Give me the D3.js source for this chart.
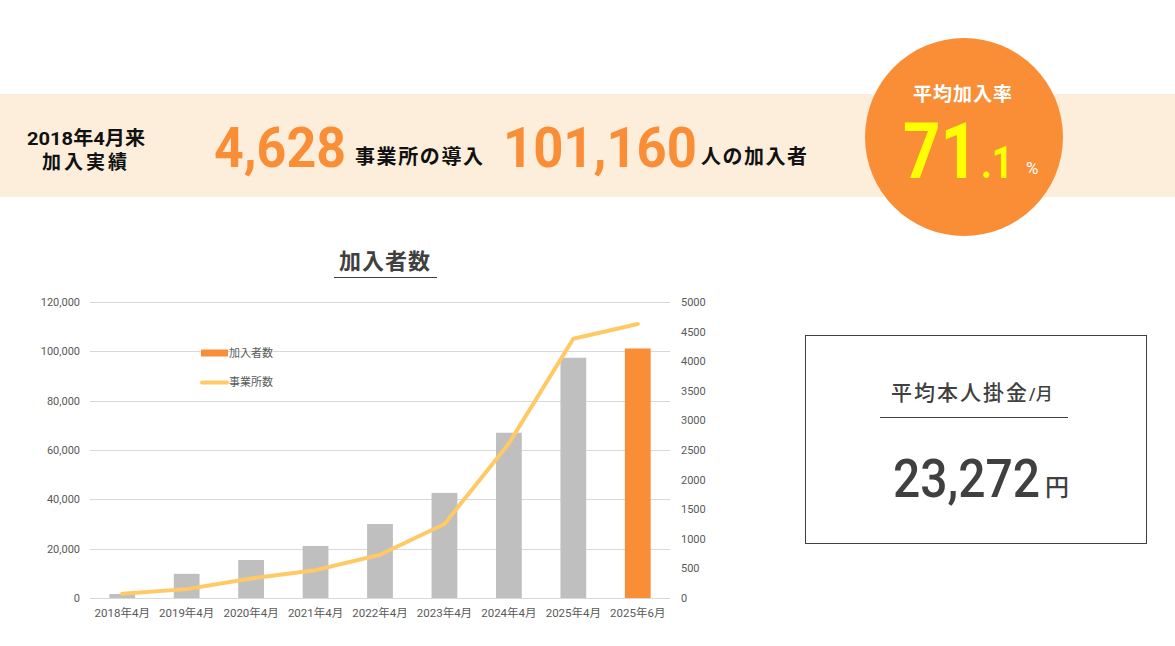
<!DOCTYPE html>
<html>
<head>
<meta charset="UTF-8">
<script src="https://d3js.org/d3.v7.min.js"></script>
<style>
  body { margin: 0; background: #fff; }
  svg text { font-family: Roboto, "Noto Sans CJK JP", sans-serif; }
</style>
</head>
<body>
<div id="chart"></div>
<script>
// chart values
var categories = ["2018年4月", "2019年4月", "2020年4月", "2021年4月", "2022年4月",
                  "2023年4月", "2024年4月", "2025年4月", "2025年6月"]
var members = [1600, 9800, 15400, 21100, 30000, 42600, 67000, 97400, 101160]
var offices = [70, 150, 330, 470, 730, 1250, 2610, 4380, 4628]
var leftTicks = [0, 20000, 40000, 60000, 80000, 100000, 120000]
var rightTicks = [0, 500, 1000, 1500, 2000, 2500, 3000, 3500, 4000, 4500, 5000]

var orange = "#F98E36"
var gray = "#595959"

var svg = d3.select("#chart").append("svg")
  .attr("width", 1175)
  .attr("height", 646)

// squeeze a text horizontally so it spans the given width
function fitText(txt, x, y, size, weight, fill, w) {
  var t = svg.append("text").attr("x", 0).attr("y", 0)
    .attr("font-size", size).attr("font-weight", weight).attr("fill", fill)
    .text(txt)
  var natural = t.node().getComputedTextLength()
  t.attr("transform", "translate(" + x + "," + y + ") scale(" + (w / natural) + ",1)")
  return t
}

// header band
svg.append("rect").attr("x", 0).attr("y", 94).attr("width", 1175).attr("height", 103)
  .attr("fill", "#FDEEDB")

svg.append("text").attr("x", 86).attr("y", 145).attr("text-anchor", "middle")
  .attr("font-size", 19).attr("font-weight", 700).attr("fill", "#111")
  .attr("textLength", 118).attr("lengthAdjust", "spacingAndGlyphs")
  .text("2018年4月来")
svg.append("text").attr("x", 86).attr("y", 169).attr("text-anchor", "middle")
  .attr("font-size", 19).attr("font-weight", 700).attr("fill", "#111")
  .attr("letter-spacing", 3)
  .text("加入実績")

fitText("4,628", 214, 167, 56, 700, orange, 132)
svg.append("text").attr("x", 355).attr("y", 164)
  .attr("font-size", 20).attr("font-weight", 700).attr("fill", "#111")
  .attr("letter-spacing", 1.6)
  .text("事業所の導入")
fitText("101,160", 503, 167, 56, 700, orange, 194)
svg.append("text").attr("x", 701).attr("y", 164)
  .attr("font-size", 20).attr("font-weight", 700).attr("fill", "#111")
  .attr("letter-spacing", 1.5)
  .text("人の加入者")

// circle
svg.append("circle").attr("cx", 964).attr("cy", 137).attr("r", 99).attr("fill", orange)
svg.append("text").attr("x", 963).attr("y", 101).attr("text-anchor", "middle")
  .attr("font-size", 19).attr("font-weight", 700).attr("fill", "#fff")
  .attr("letter-spacing", 1)
  .text("平均加入率")
fitText("71", 903, 178, 78, 700, "#FFFF00", 75)
fitText(".1", 981, 178, 45, 700, "#FFFF00", 32)
svg.append("text").attr("x", 1026).attr("y", 174)
  .attr("font-size", 17).attr("fill", "#fff")
  .text("%")

// right box
svg.append("rect").attr("x", 805.5).attr("y", 335.5).attr("width", 341).attr("height", 208)
  .attr("fill", "none").attr("stroke", "#404040").attr("stroke-width", 1)
var avgTitle = svg.append("text").attr("x", 891).attr("y", 400)
  .attr("font-size", 21).attr("font-weight", 500).attr("fill", "#404040")
avgTitle.append("tspan").attr("letter-spacing", 2).text("平均本人掛金")
avgTitle.append("tspan").attr("font-size", 17).text("/月")
svg.append("line").attr("x1", 880).attr("x2", 1068).attr("y1", 417.5).attr("y2", 417.5)
  .attr("stroke", "#404040").attr("stroke-width", 1)
fitText("23,272", 893, 497, 54, 500, "#404040", 147)
svg.append("text").attr("x", 1045).attr("y", 496)
  .attr("font-size", 24).attr("font-weight", 500).attr("fill", "#404040")
  .text("円")

// chart title
svg.append("text").attr("x", 385).attr("y", 269).attr("text-anchor", "middle")
  .attr("font-size", 22).attr("font-weight", 700).attr("fill", "#404040")
  .attr("letter-spacing", 1)
  .text("加入者数")
svg.append("line").attr("x1", 334).attr("x2", 437).attr("y1", 277.5).attr("y2", 277.5)
  .attr("stroke", "#404040").attr("stroke-width", 1)

// scales
var x = d3.scaleBand().domain(categories).range([90, 670]).padding(0)
var y = d3.scaleLinear().domain([0, 120000]).range([598, 302])
var y2 = d3.scaleLinear().domain([0, 5000]).range([598, 302])

// gridlines
svg.append("g").selectAll("line").data(leftTicks).enter().append("line")
  .attr("x1", 90).attr("x2", 670)
  .attr("y1", function(d) { return Math.round(y(d)) + 0.5 })
  .attr("y2", function(d) { return Math.round(y(d)) + 0.5 })
  .attr("stroke", "#D9D9D9").attr("stroke-width", 1)

// axes
var leftAxis = svg.append("g").attr("transform", "translate(90,0)")
  .call(d3.axisLeft(y).tickValues(leftTicks).tickFormat(d3.format(",")).tickSize(0).tickPadding(10))
var rightAxis = svg.append("g").attr("transform", "translate(670,0)")
  .call(d3.axisRight(y2).tickValues(rightTicks).tickFormat(d3.format("d")).tickSize(0).tickPadding(11))
var bottomAxis = svg.append("g").attr("transform", "translate(0,598)")
  .call(d3.axisBottom(x).tickSize(0).tickPadding(11))

;[leftAxis, rightAxis, bottomAxis].forEach(function(a) {
  a.select(".domain").remove()
  a.selectAll("text").attr("fill", gray).attr("font-size", 11)
    .style("font-family", "Roboto, 'Noto Sans CJK JP', sans-serif")
})
bottomAxis.selectAll("text").attr("font-size", 11.5)

// bars
svg.append("g").selectAll("rect").data(members).enter().append("rect")
  .attr("x", function(d, i) { return x(categories[i]) + x.bandwidth() * 0.3 })
  .attr("width", x.bandwidth() * 0.4)
  .attr("y", function(d) { return y(d) })
  .attr("height", function(d) { return y(0) - y(d) })
  .attr("fill", function(d, i) { return i == members.length - 1 ? orange : "#BFBFBF" })

// office line
var line = d3.line()
  .x(function(d, i) { return x(categories[i]) + x.bandwidth() / 2 })
  .y(function(d) { return y2(d) })
svg.append("path").datum(offices)
  .attr("d", line)
  .attr("fill", "none")
  .attr("stroke", "#FFC966")
  .attr("stroke-width", 4)
  .attr("stroke-linecap", "round")
  .attr("stroke-linejoin", "round")

// legend
svg.append("rect").attr("x", 201).attr("y", 349.5).attr("width", 27).attr("height", 7)
  .attr("fill", orange)
svg.append("text").attr("x", 229).attr("y", 357).attr("font-size", 11).attr("fill", gray)
  .text("加入者数")
svg.append("line").attr("x1", 202).attr("x2", 227).attr("y1", 382.5).attr("y2", 382.5)
  .attr("stroke", "#FFC966").attr("stroke-width", 4).attr("stroke-linecap", "round")
svg.append("text").attr("x", 229).attr("y", 386).attr("font-size", 11).attr("fill", gray)
  .text("事業所数")
</script>
</body>
</html>
